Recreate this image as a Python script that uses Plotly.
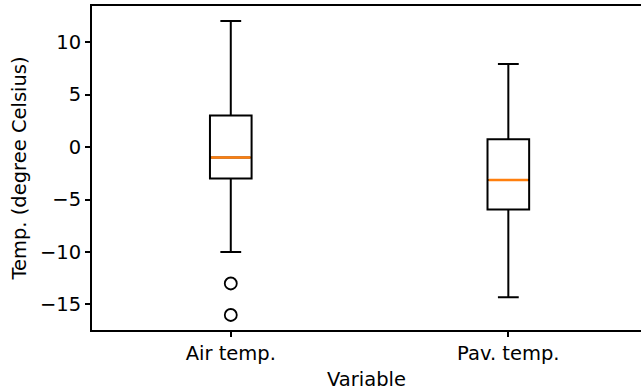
import plotly.graph_objects as go

categories = ["Air temp.", "Pav. temp."]
positions = [1, 2]
q1 = [-3.0, -5.95]
median = [-1.0, -3.15]
q3 = [3.0, 0.75]
lower_whisker = [-10.0, -14.3]
upper_whisker = [12.0, 7.9]
outliers = [[-13.0, -16.0], []]

box_width = 0.15
font = dict(family="DejaVu Sans", size=19.5, color="black")

fig = go.Figure()
for i, cat in enumerate(categories):
    fig.add_trace(go.Box(
        x=[positions[i]], q1=[q1[i]], median=[median[i]], q3=[q3[i]],
        lowerfence=[lower_whisker[i]], upperfence=[upper_whisker[i]],
        width=box_width, whiskerwidth=0.5,
        line=dict(color="black", width=2), fillcolor="rgba(0,0,0,0)",
        boxpoints=False, showlegend=False, hoverinfo="skip", name=cat,
    ))
    fig.add_trace(go.Scatter(
        x=[positions[i] - box_width / 2 + 0.004, positions[i] + box_width / 2 - 0.004],
        y=[median[i], median[i]], mode="lines",
        line=dict(color="#ff7f0e", width=2.6), showlegend=False, hoverinfo="skip",
    ))
    if outliers[i]:
        fig.add_trace(go.Scatter(
            x=[positions[i]] * len(outliers[i]), y=outliers[i], mode="markers",
            marker=dict(symbol="circle-open", size=12, color="black", line=dict(width=1.8)),
            showlegend=False, hoverinfo="skip",
        ))

fig.update_layout(
    width=641, height=392,
    margin=dict(l=92, r=0, t=6, b=62),
    plot_bgcolor="white", paper_bgcolor="white",
    font=font,
)
fig.update_xaxes(
    range=[0.5, 2.478], tickvals=positions, ticktext=categories,
    showgrid=False, zeroline=False, showline=True, linecolor="black", linewidth=2,
    mirror=True, ticks="outside", ticklen=5, tickwidth=1.5, tickcolor="black",
    title=dict(text="Variable", standoff=8, font=font), tickfont=font,
)
fig.update_yaxes(
    range=[-17.43, 13.43], tickvals=[-15, -10, -5, 0, 5, 10],
    ticktext=["\u221215", "\u221210", "\u22125", "0", "5", "10"],
    showgrid=False, zeroline=False, showline=True, linecolor="black", linewidth=2,
    mirror=False, ticks="outside", ticklen=5, tickwidth=1.5, tickcolor="black",
    title=dict(text="Temp. (degree Celsius)", standoff=8, font=font), tickfont=font,
)

fig.write_html("out.html")
